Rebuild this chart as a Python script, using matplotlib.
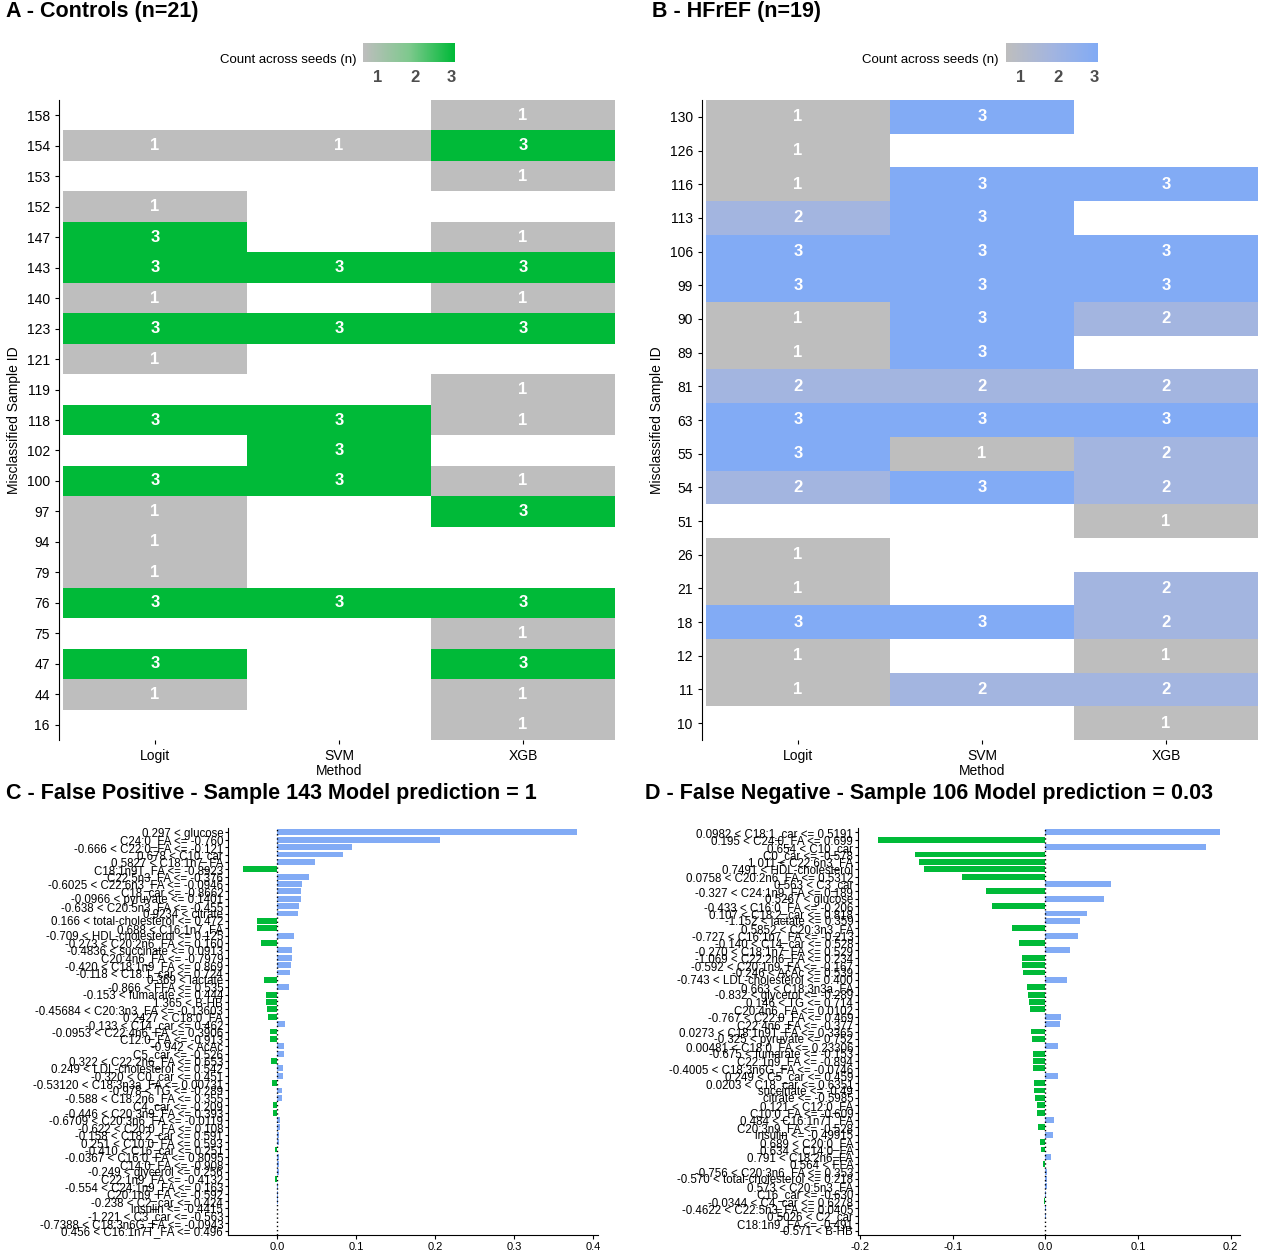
import numpy as np
import matplotlib
matplotlib.use("Agg")
import matplotlib.pyplot as plt
from matplotlib.colors import ListedColormap, LinearSegmentedColormap

plt.rcParams['font.family'] = ['Liberation Sans', 'DejaVu Sans']

W, H = 1280, 1253
methods = ["Logit", "SVM", "XGB"]

# panel A: misclassified controls (0 = not misclassified)
ids_a = ["158", "154", "153", "152", "147", "143", "140", "123", "121", "119", "118",
         "102", "100", "97", "94", "79", "76", "75", "47", "44", "16"]
logit_a = [0, 1, 0, 1, 3, 3, 1, 3, 1, 0, 3, 0, 3, 1, 1, 1, 3, 0, 3, 1, 0]
svm_a   = [0, 1, 0, 0, 0, 3, 0, 3, 0, 0, 3, 3, 3, 0, 0, 0, 3, 0, 0, 0, 0]
xgb_a   = [1, 3, 1, 0, 1, 3, 1, 3, 0, 1, 1, 0, 1, 3, 0, 0, 3, 1, 3, 1, 1]

# panel B: misclassified HFrEF
ids_b = ["130", "126", "116", "113", "106", "99", "90", "89", "81", "63", "55", "54",
         "51", "26", "21", "18", "12", "11", "10"]
logit_b = [1, 1, 1, 2, 3, 3, 1, 1, 2, 3, 3, 2, 0, 1, 1, 3, 1, 1, 0]
svm_b   = [3, 0, 3, 3, 3, 3, 3, 3, 2, 3, 1, 3, 0, 0, 0, 3, 0, 2, 0]
xgb_b   = [0, 0, 3, 0, 3, 3, 2, 0, 2, 3, 2, 2, 1, 0, 2, 2, 1, 2, 1]

# panel C: false positive, sample 143
feat_c = ["0.297 < glucose", "C24:0_FA <= -0.760", "-0.666 < C22:0_FA <= -0.121",
          "0.678 < C10_car", "0.5827 < C18:1n7_FA", "C18:1n9T_FA <= -0.8923",
          "C22:5n3_FA <= -0.376", "-0.6025 < C22:6n3_FA <= -0.0946", "C18_car <= -0.8662",
          "-0.0966 < pyruvate <= 0.1401", "-0.638 < C20:5n3_FA <= -0.455", "0.9234 < citrate",
          "0.166 < total-cholesterol <= 0.472", "0.688 < C16:1n7_FA",
          "-0.709 < HDL-cholesterol <= 0.125", "-0.273 < C20:2n6_FA <= 0.160",
          "-0.4836 < succinate <= 0.0913", "C20:4n6_FA <= -0.7979",
          "-0.420 < C18:1n9_FA <= 0.869", "-0.118 < C18:1_car <= 0.724", "0.369 < lactate",
          "-0.866 < FFA <= 0.535", "-0.153 < fumarate <= 0.444", "1.365 < B-HB",
          "-0.45684 < C20:3n3_FA <= -0.13603", "0.2427 < C18:0_FA",
          "-0.133 < C14_car <= 0.462", "-0.0953 < C22:4n6_FA <= 0.3906", "C12:0_FA <= -0.913",
          "-0.942 < AcAc", "C5_car <= -0.526", "0.322 < C22:2n6_FA <= 0.653",
          "0.249 < LDL-cholesterol <= 0.542", "-0.320 < C0_car <= 0.451",
          "-0.53120 < C18:3n3a_FA <= 0.00731", "-0.978 < TG <= -0.289",
          "-0.588 < C18:2n6_FA <= 0.355", "C4_car <= -0.209", "-0.446 < C20:3n9_FA <= 0.393",
          "-0.6709 < C20:3n6_FA <= -0.0119", "-0.622 < C20:0_FA <= 0.108",
          "-0.158 < C18:2_car <= 0.591", "0.251 < C10:0_FA <= 0.593",
          "-0.410 < C16_car <= 0.251", "-0.0367 < C16:0_FA <= 0.8095", "C14:0_FA <= -0.908",
          "-0.249 < glycerol <= 0.256", "C22:1n9_FA <= -0.4132", "-0.554 < C24:1n9_FA <= 0.163",
          "C20:1n9_FA <= -0.592", "-0.238 < C2_car <= 0.424", "insulin <= -0.4415",
          "-1.221 < C3_car <= -0.563", "-0.7388 < C18:3n6G_FA <= -0.0943",
          "0.456 < C16:1n7T_FA <= 0.496"]
val_c = [0.380, 0.206, 0.095, 0.083, 0.048, -0.043, 0.040, 0.032, 0.030, 0.030, 0.028,
         0.027, -0.025, -0.025, 0.021, -0.020, 0.019, 0.019, 0.018, 0.017, -0.016, 0.015,
         -0.014, -0.014, -0.013, -0.012, 0.010, -0.009, -0.009, 0.009, 0.009, -0.008, 0.008,
         0.007, -0.006, 0.006, 0.006, -0.005, -0.005, 0.004, 0.004, 0.003, 0.003, -0.002,
         0.002, 0.002, 0.002, -0.002, 0.001, 0.001, 0.001, 0.0005, 0.0005, 0.0003, 0.0002]

# panel D: false negative, sample 106
feat_d = ["0.0982 < C18:1_car <= 0.5191", "0.195 < C24:0_FA <= 0.699", "0.654 < C10_car",
          "C0_car <= -0.578", "1.011 < C22:6n3_FA", "0.7491 < HDL-cholesterol",
          "0.0758 < C20:2n6_FA <= 0.5312", "0.563 < C3_car", "-0.327 < C24:1n9_FA <= 0.189",
          "0.5267 < glucose", "-0.433 < C16:0_FA <= -0.206", "0.107 < C18:2_car <= 0.818",
          "-1.152 < lactate <= 0.359", "0.5852 < C20:3n3_FA", "-0.727 < C16:1n7_FA <= -0.213",
          "-0.140 < C14_car <= 0.528", "-0.270 < C18:1n7_FA <= 0.529",
          "-1.069 < C22:2n6_FA <= 0.234", "-0.592 < C20:1n9_FA <= -0.167",
          "-0.246 < AcAc <= 0.539", "-0.743 < LDL-cholesterol <= 0.400", "0.663 < C18:3n3a_FA",
          "-0.832 < glycerol <= -0.289", "0.146 < TG <= 0.714", "C20:4n6_FA <= 0.0102",
          "-0.767 < C22:0_FA <= 0.469", "C22:4n6_FA <= -0.377", "0.0273 < C18:1n9T_FA <= 0.3365",
          "-0.325 < pyruvate <= 0.752", "0.00481 < C18:0_FA <= 0.23306",
          "-0.675 < fumarate <= -0.153", "C22:1n9_FA <= -0.894",
          "-0.4005 < C18:3n6G_FA <= -0.0746", "0.249 < C5_car <= 0.459",
          "0.0203 < C18_car <= 0.6351", "succinate <= -0.49", "citrate <= -0.5985",
          "0.121 < C12:0_FA", "C10:0_FA <= -0.609", "0.484 < C16:1n7T_FA",
          "C20:3n9_FA <= -0.528", "insulin <= -0.49915", "0.689 < C20:0_FA",
          "0.634 < C14:0_FA", "0.791 < C18:2n6_FA", "0.564 < FFA",
          "-0.756 < C20:3n6_FA <= 0.353", "-0.570 < total-cholesterol <= 0.218",
          "0.573 < C20:5n3_FA", "C16_car <= -0.630", "-0.0344 < C4_car <= 0.6278",
          "-0.4622 < C22:5n3_FA <= 0.0405", "0.5026 < C2_car", "C18:1n9_FA <= -0.491",
          "0.571 < B-HB"]
val_d = [0.188, -0.180, 0.173, -0.141, -0.136, -0.131, -0.090, 0.071, -0.064, 0.063,
         -0.057, 0.045, 0.037, -0.036, 0.035, -0.028, 0.027, -0.025, -0.025, -0.024,
         0.023, -0.020, -0.019, -0.018, -0.017, 0.017, 0.016, -0.015, -0.014, 0.014,
         -0.0135, -0.013, -0.013, 0.0135, -0.012, -0.012, -0.011, -0.009, -0.009, 0.0096,
         -0.008, 0.008, -0.006, -0.005, 0.006, -0.003, 0.002, 0.002, 0.0015, 0.001,
         -0.001, 0.0004, 0.0003, 0.0002, 0.0001]

GRAY = "#BEBEBE"
GREEN = "#00BA38"
BLUE = "#82ABF5"
BLUE2 = "#A3B5E0"
GREEN2 = "#7FC98E"


def px_axes(fig, x0, y0, x1, y1):
    return fig.add_axes([x0 / W, 1 - y1 / H, (x1 - x0) / W, (y1 - y0) / H])


def heat(ax, ids, cols, c2, c3):
    data = np.array(cols, dtype=float).T
    m = np.ma.masked_equal(data, 0)
    cmap = ListedColormap([GRAY, c2, c3])
    n = len(ids)
    ax.pcolormesh(np.arange(4) - 0.5, np.arange(n + 1) - 0.5, m, cmap=cmap, vmin=0.5, vmax=3.5)
    for i in range(n):
        for j in range(3):
            if data[i, j] > 0:
                ax.text(j, i, str(int(data[i, j])), ha="center", va="center",
                        color="white", fontsize=12, fontweight="bold")
    ax.set_xlim(-0.5, 2.5)
    ax.set_ylim(n - 0.5, -0.5)
    ax.set_yticks(range(n))
    ax.set_yticklabels(ids, fontsize=10)
    ax.set_xticks(range(3))
    ax.set_xticklabels(methods, fontsize=10)
    ax.set_xlabel("Method", fontsize=10, labelpad=1)
    ax.set_ylabel("Misclassified Sample ID", fontsize=10)
    for s in ["top", "right", "bottom"]:
        ax.spines[s].set_visible(False)
    ax.spines["left"].set_position(("outward", 3))
    ax.tick_params(length=3)


def cbar(fig, x0, c3, c2):
    cax = px_axes(fig, x0, 43, x0 + 92, 62)
    cm = LinearSegmentedColormap.from_list("c", [GRAY, c2, c3])
    cax.imshow(np.linspace(0, 1, 100)[None, :], aspect="auto", cmap=cm, extent=[0.6, 3.1, 0, 1])
    cax.set_yticks([])
    cax.set_xticks([1, 2, 3])
    cax.set_xticklabels(["1", "2", "3"], fontsize=12, color="#4D4D4D", fontweight="bold")
    cax.tick_params(axis="x", length=0, pad=6)
    for s in cax.spines.values():
        s.set_visible(False)
    fig.text((x0 - 7) / W, 1 - 60 / H, "Count across seeds (n)", ha="right", va="center", fontsize=9.5)


def bars(ax, feats, vals, xlim, xticks):
    y = np.arange(len(vals))
    cols = [BLUE if v > 0 else GREEN for v in vals]
    ax.barh(y, vals, height=0.8, color=cols)
    ax.axvline(0, color="black", linestyle=(0, (1, 2)), linewidth=1)
    ax.set_ylim(len(vals) - 0.4, -0.6)
    ax.set_xlim(*xlim)
    ax.set_yticks(y)
    ax.set_yticklabels(feats, fontsize=8.3)
    ax.set_xticks(xticks)
    ax.set_xticklabels([f"{t:.1f}" for t in xticks], fontsize=8)
    for s in ["top", "right"]:
        ax.spines[s].set_visible(False)
    ax.tick_params(axis="y", length=2.5, pad=1)
    ax.tick_params(axis="x", length=3, pad=2)


fig = plt.figure(figsize=(12.8, 12.53), dpi=100)

axa = px_axes(fig, 63, 100, 615, 740)
heat(axa, ids_a, [logit_a, svm_a, xgb_a], GREEN2, GREEN)
cbar(fig, 363, GREEN, GREEN2)

axb = px_axes(fig, 706, 100, 1258, 740)
heat(axb, ids_b, [logit_b, svm_b, xgb_b], BLUE2, BLUE)
cbar(fig, 1006, BLUE, BLUE2)

axc = px_axes(fig, 228, 828, 598, 1235)
bars(axc, feat_c, val_c, (-0.062, 0.406), [0.0, 0.1, 0.2, 0.3, 0.4])

axd = px_axes(fig, 858, 828, 1240, 1235)
bars(axd, feat_d, val_d, (-0.202, 0.21), [-0.2, -0.1, 0.0, 0.1, 0.2])

tkw = dict(fontsize=15.5, fontweight="bold", va="top")
fig.text(6 / W, 1 - 1 / H, "A - Controls (n=21)", **tkw)
fig.text(652 / W, 1 - 1 / H, "B - HFrEF (n=19)", **tkw)
fig.text(6 / W, 1 - 783 / H, "C - False Positive - Sample 143 Model prediction = 1", **tkw)
fig.text(645 / W, 1 - 783 / H, "D - False Negative - Sample 106 Model prediction = 0.03", **tkw)

fig.savefig("out.png", dpi=100)
